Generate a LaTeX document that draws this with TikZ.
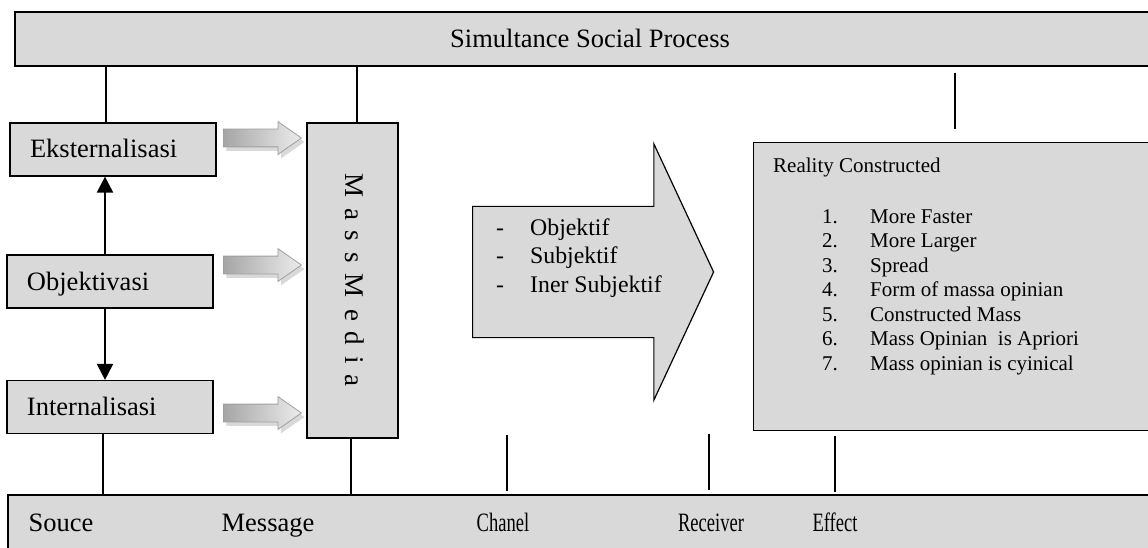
\documentclass[tikz,border=0pt]{standalone}
\usepackage{fontspec}
\setmainfont{Liberation Serif}
\usepackage{tikz}
\usetikzlibrary{positioning}
\usetikzlibrary{calc, shapes.arrows, shadows, arrows.meta}
\definecolor{boxgray}{RGB}{217,217,217}

\begin{document}
\begin{tikzpicture}[x=1pt, y=-1pt]
	\tikzstyle{every node}=[font=\fontsize{26.5}{32}\selectfont]
	\tikzstyle{plainbox}=[draw, line width=1.2pt, fill=boxgray, inner sep=0pt]
	\tikzstyle{stagebox}=[plainbox, minimum height=53pt, text width=166pt, inner xsep=20pt, align=left, text height=23pt, text depth=6pt]
	\tikzstyle{link}=[line width=1.2pt]
	\tikzstyle{stepArrow}=[line width=2pt, -{Triangle[length=16pt, width=16pt]}]
	\tikzstyle{pushArrow}=[single arrow, draw=gray!75, line width=0.8pt, left color=gray!70, right color=gray!15, minimum height=78pt, inner xsep=0pt, inner ysep=8.5pt, single arrow head extend=7.5pt, single arrow tip angle=70, anchor=tail, drop shadow={shadow xshift=3pt, shadow yshift=-4pt, opacity=0.3}]
	\tikzstyle{smalltext}=[font=\fontsize{21}{24.5}\selectfont, anchor=base west, inner sep=0pt]
	\useasboundingbox (0,0) rectangle (1148,548);

	% frame boxes
	\node[plainbox, minimum width=1150pt, minimum height=54pt, text height=23pt, text depth=6pt] (process) at (590,39) {Simultance Social Process};
	\node[plainbox, minimum width=1160pt, minimum height=80pt] (flow) at (588,535) {};

	% stages
	\node[stagebox] (ekst) at (113,149.5) {Eksternalisasi};
	\node[stagebox] (objek) at (110,281.5) {Objektivasi};
	\node[stagebox] (inter) at (110,407) {Internalisasi};
	\node[plainbox, minimum width=91pt, minimum height=315pt] (media) at (352.5,280.5) {};
	\node[rotate=-90, font=\fontsize{27}{32}\selectfont] (mediaLabel) at (355,280) {\spaceskip=11pt M a s s M e d i a};

	\foreach \y [count=\i] in {138,265,413}
		\node[pushArrow] (push\i) at (223,\y) {};

	\coordinate (ekstTop) at ([xshift=-7pt]ekst.north);
	\coordinate (objekTop) at ([xshift=-5pt]objek.north);
	\coordinate (objekBot) at ([xshift=-5pt]objek.south);
	\coordinate (interBot) at ([xshift=-7pt]inter.south);
	\coordinate (mediaTop) at ([xshift=4.5pt]media.north);
	\coordinate (mediaBot) at ([xshift=-1.5pt]media.south);
	\draw[link] (ekstTop) -- (ekstTop |- process.south);
	\draw[stepArrow] (objekTop) -- (objekTop |- ekst.south);
	\draw[stepArrow] (objekBot) -- (objekBot |- inter.north);
	\draw[link] (interBot) -- (interBot |- flow.north);
	\draw[link] (mediaTop) -- (mediaTop |- process.south);
	\draw[link] (mediaBot) -- (mediaBot |- flow.north);

	% channel
	\node[single arrow, draw, line width=1.2pt, fill=boxgray, minimum height=241pt, inner xsep=0pt, inner ysep=65pt, single arrow head extend=62.5pt, single arrow tip angle=130, anchor=tail] (chanArrow) at (472,272) {};
	\node[anchor=base west, inner sep=0pt, font=\fontsize{23.8}{28.5}\selectfont] (chanList) at (496,235) {\begin{tabular}[t]{@{}p{34pt}@{}l@{}}
		- & Objektif\\
		- & Subjektif\\
		- & Iner Subjektif
	\end{tabular}};

	% reality
	\node[plainbox, minimum width=410pt, minimum height=288pt, anchor=north west] (reality) at (753,142) {};
	\node[smalltext] (realityTitle) at (773,173) {Reality Constructed};
	\node[smalltext] (realityList) at (822,223) {\begin{tabular}[t]{@{}p{48pt}@{}l@{}}
		1. & More Faster\\
		2. & More Larger\\
		3. & Spread\\
		4. & Form of massa opinian\\
		5. & Constructed Mass\\
		6. & Mass Opinian~ is Apriori\\
		7. & Mass opinian is cyinical
	\end{tabular}};

	% loose ticks
	\foreach \nm/\x/\ya/\yb in {chan/507/435/491, recv/709/434/490, eff/835/436/492, real/955/73/129} {
		\coordinate (\nm Top) at (\x,\ya);
		\coordinate (\nm Bot) at (\x,\yb);
		\draw[link] (\nm Top) -- (\nm Bot);
	}

	% flow labels
	\node[anchor=base] (souce) at (61,531) {Souce};
	\node[anchor=base] (message) at (268,531) {Message};
	\node[anchor=base, xscale=0.7, transform shape] (chanel) at (503,531) {Chanel};
	\node[anchor=base, xscale=0.7, transform shape] (receiver) at (711,531) {Receiver};
	\node[anchor=base, xscale=0.7, transform shape] (effect) at (835,531) {Effect};
\end{tikzpicture}
\end{document}
